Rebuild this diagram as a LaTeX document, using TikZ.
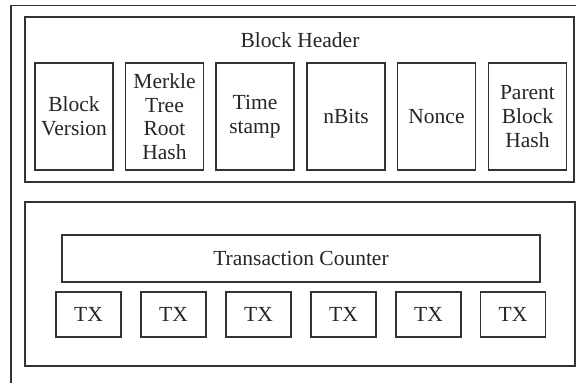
\documentclass[tikz,border=0pt]{standalone}
\usepackage{fontspec}
\setmainfont{Liberation Serif}
\begin{document}
\begin{tikzpicture}[x=1pt,y=-1pt,
  frame/.style={draw=black!80,line width=1.3pt},
  box/.style={draw=black!80,line width=1.2pt,inner sep=0pt,align=center,
    font=\fontsize{21.5}{23.7}\selectfont,text=black!85},
  lbl/.style={inner sep=0pt,font=\fontsize{21.5}{23.7}\selectfont,text=black!85}]
\useasboundingbox (0,0) rectangle (576,383);
\clip (0,0) rectangle (576,383);
\fill[white] (0,0) rectangle (576,383);
\coordinate (oa) at (11,395);
\coordinate (ob) at (590,5.7);
\draw[frame] (oa) |- (ob);
\node[box,minimum width=549pt,minimum height=165pt] (hdr) at (299.5,99.5) {};
\node[lbl] (hdrt) at (300,40) {Block Header};
\node[box,minimum width=78pt,minimum height=107pt] (bv) at (74,116.5) {Block\\Version};
\node[box,minimum width=78pt,minimum height=107pt] (mk) at (164.5,116.5) {Merkle\\Tree\\Root\\Hash};
\node[box,minimum width=78pt,minimum height=107pt] (ts) at (255,116.5) {Time\\stamp};
\node[box,minimum width=78pt,minimum height=107pt] (nb) at (346,116.5) {nBits};
\node[box,minimum width=78pt,minimum height=107pt] (nc) at (436.5,116.5) {Nonce};
\node[box,minimum width=78pt,minimum height=107pt] (pb) at (527.5,116.5) {Parent\\Block\\Hash};
\node[box,minimum width=550pt,minimum height=164pt] (body) at (300,284) {};
\node[box,minimum width=478pt,minimum height=47pt] (tc) at (301,258.5) {Transaction Counter};
\foreach \i/\x in {1/88.5,2/173.5,3/258.5,4/343.5,5/428.5,6/513}{
  \node[box,minimum width=65pt,minimum height=45pt] (tx\i) at (\x,314.5) {TX};
}
\end{tikzpicture}
\end{document}
